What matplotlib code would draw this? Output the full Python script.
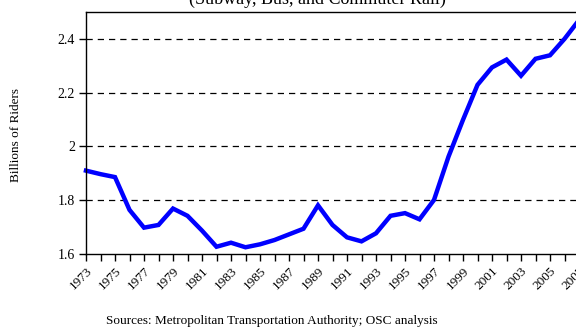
import matplotlib.pyplot as plt
import numpy as np

years = np.arange(1973, 2008)
riders = [1.910, 1.897, 1.886, 1.764, 1.698, 1.708, 1.769, 1.742, 1.687, 1.627,
          1.642, 1.625, 1.636, 1.652, 1.673, 1.694, 1.781, 1.708, 1.662, 1.647,
          1.677, 1.742, 1.752, 1.729, 1.801, 1.962, 2.099, 2.229, 2.294, 2.323,
          2.263, 2.326, 2.339, 2.400, 2.470]
y_ticks = [1.6, 1.8, 2.0, 2.2, 2.4]
y_labels = ['1.6', '1.8', '2', '2.2', '2.4']

plt.rcParams['font.family'] = ['Liberation Serif', 'DejaVu Serif']

fig = plt.figure(figsize=(5.76, 3.27), dpi=100)
ax = fig.add_axes([86 / 576, 1 - 254 / 327, 493 / 576, 242 / 327])

ax.plot(years, riders, color='#0000ff', linewidth=3.2, solid_joinstyle='miter', clip_on=False)

ax.set_xlim(1973, 2007)
ax.set_ylim(1.6, 2.5)
ax.set_yticks(y_ticks)
ax.set_yticklabels(y_labels, fontsize=10)
ax.set_xticks(years)
ax.set_xticklabels([str(y) if (y - 1973) % 2 == 0 else '' for y in years],
                   rotation=45, ha='right', rotation_mode='anchor', fontsize=9.5)
ax.tick_params(axis='x', direction='out', length=5, width=1, pad=3)
ax.tick_params(axis='y', direction='out', length=5, width=1, pad=3)
for y in y_ticks[1:]:
    ax.axhline(y, color='black', linestyle=(0, (5, 4)), linewidth=0.9, zorder=0)

ax.spines['right'].set_visible(False)
ax.spines['top'].set_linewidth(1)
ax.spines['left'].set_linewidth(1)
ax.spines['bottom'].set_linewidth(1)

fig.text(16 / 576, 1 - 135 / 327, 'Billions of Riders', rotation=90,
         ha='center', va='center', fontsize=9.5)
fig.text(317 / 576, 1 - 4 / 327, '(Subway, Bus, and Commuter Rail)',
         ha='center', va='baseline', fontsize=13)
fig.text(272 / 576, 1 - 321 / 327, 'Sources: Metropolitan Transportation Authority; OSC analysis',
         ha='center', va='center', fontsize=9.5)

fig.savefig('out.png', dpi=100)
